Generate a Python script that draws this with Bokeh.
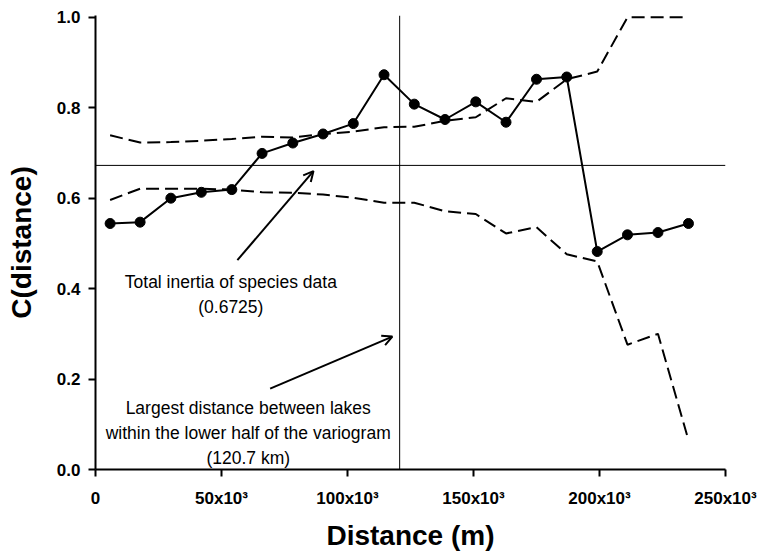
from bokeh.plotting import figure
from bokeh.models import Range1d, FixedTicker, Span, Label, Arrow, OpenHead, PrintfTickFormatter
from bokeh.embed import file_html
from bokeh.resources import INLINE

# ---- data ----
dist_m = [5800, 17700, 29900, 42000, 54100, 66100, 78300, 90300, 102300, 114500,
          126500, 138700, 150900, 162900, 175000, 187000, 199100, 211100, 223200, 235300]
c_dist = [0.544, 0.547, 0.600, 0.613, 0.619, 0.699, 0.722, 0.742, 0.765, 0.873,
          0.808, 0.774, 0.813, 0.768, 0.863, 0.868, 0.482, 0.519, 0.524, 0.544]
upper_env = [0.739, 0.723, 0.724, 0.727, 0.731, 0.736, 0.734, 0.742, 0.747, 0.757,
             0.758, 0.771, 0.779, 0.821, 0.813, 0.863, 0.880, 1.0, 1.0, 1.0]
lower_env = [0.596, 0.621, 0.621, 0.621, 0.619, 0.613, 0.612, 0.608, 0.601, 0.590,
             0.590, 0.571, 0.565, 0.522, 0.536, 0.476, 0.460, 0.276, 0.300, 0.065]

total_inertia = 0.6725
lag_limit_m = 120700

x_ticks = [0, 50000, 100000, 150000, 200000, 250000]
x_tick_labels = ["0", "50x10³", "100x10³", "150x10³", "200x10³", "250x10³"]
y_ticks = [0.0, 0.2, 0.4, 0.6, 0.8, 1.0]

inertia_text = ["Total inertia of species data", "(0.6725)"]
lag_text = ["Largest distance between lakes", "within the lower half of the variogram", "(120.7 km)"]

FONT = "Liberation Sans"

p = figure(width=760, height=556, output_backend="svg", toolbar_location=None,
           x_range=Range1d(0, 250000), y_range=Range1d(0, 1.004),
           min_border_left=95, min_border_right=35, min_border_top=15, min_border_bottom=87)
p.outline_line_color = None
p.grid.visible = False
p.background_fill_color = "white"
p.border_fill_color = "white"

for ax in p.axis:
    ax.axis_line_width = 2
    ax.axis_line_color = "black"
    ax.major_tick_line_width = 2
    ax.major_tick_line_color = "black"
    ax.major_tick_in = 0
    ax.major_tick_out = 7
    ax.minor_tick_in = 0
    ax.minor_tick_out = 0
    ax.major_label_text_font = FONT
    ax.major_label_text_font_style = "bold"
    ax.major_label_text_font_size = "17px"
    ax.major_label_text_color = "black"
    ax.axis_label_text_font = FONT
    ax.axis_label_text_font_style = "bold"
    ax.axis_label_text_font_size = "28px"
    ax.axis_label_text_color = "black"

p.xaxis.ticker = FixedTicker(ticks=x_ticks)
p.xaxis.major_label_overrides = dict(zip(x_ticks, x_tick_labels))
p.xaxis.major_label_standoff = 12
p.xaxis.axis_label = "Distance (m)"
p.xaxis.axis_label_standoff = 9

p.yaxis.ticker = FixedTicker(ticks=y_ticks)
p.yaxis.formatter = PrintfTickFormatter(format="%.1f")
p.yaxis.major_label_standoff = 8
p.yaxis.axis_label = "C(distance)"
p.yaxis.axis_label_standoff = 17

# reference lines
p.add_layout(Span(location=total_inertia, dimension="width", line_color="black", line_width=1))
p.add_layout(Span(location=lag_limit_m, dimension="height", line_color="black", line_width=1))

# envelopes
p.line(dist_m, upper_env, line_color="black", line_width=2, line_dash="13 6")
p.line(dist_m, lower_env, line_color="black", line_width=2, line_dash="13 6")

# correlogram
p.line(dist_m, c_dist, line_color="black", line_width=2)
p.scatter(dist_m, c_dist, size=10, fill_color="black", line_color="black")

# annotations
for txt, yy in zip(inertia_text, [0.4156, 0.359]):
    p.add_layout(Label(x=53700, y=yy, text=txt, text_align="center", text_baseline="alphabetic",
                       text_font=FONT, text_font_size="17.5px", text_color="black"))
for txt, yy in zip(lag_text, [0.1356, 0.0816, 0.0244]):
    p.add_layout(Label(x=60600, y=yy, text=txt, text_align="center", text_baseline="alphabetic",
                       text_font=FONT, text_font_size="17.5px", text_color="black"))

p.add_layout(Arrow(end=OpenHead(size=10, line_width=2, line_color="black"),
                   x_start=56300, y_start=0.463, x_end=86500, y_end=0.660,
                   line_width=2, line_color="black"))
p.add_layout(Arrow(end=OpenHead(size=10, line_width=2, line_color="black"),
                   x_start=69300, y_start=0.179, x_end=117800, y_end=0.294,
                   line_width=2, line_color="black"))

open("out.html", "w").write(file_html(p, INLINE))
